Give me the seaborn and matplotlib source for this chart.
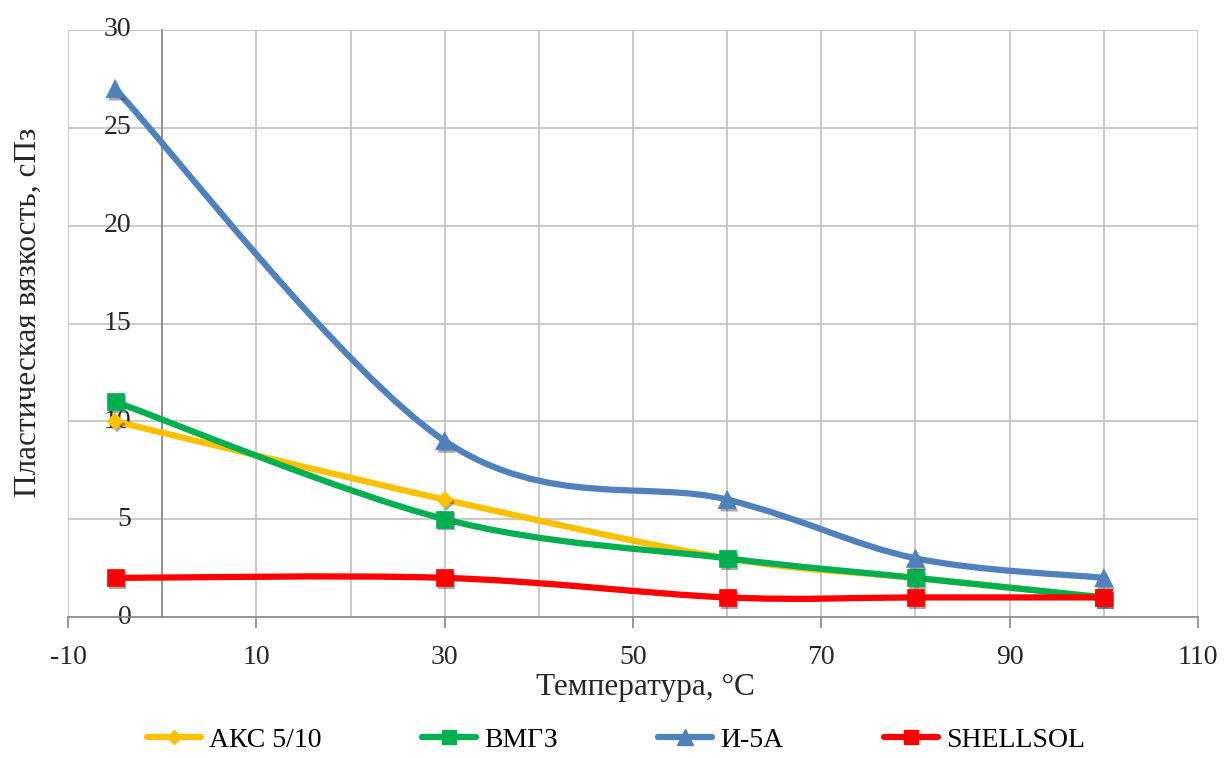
import numpy as np
import matplotlib
matplotlib.use("Agg")
import matplotlib.pyplot as plt
import seaborn as sns
from matplotlib.path import Path
from matplotlib.patches import PathPatch
from matplotlib.lines import Line2D
import matplotlib.patheffects as pe

# Temperature points and plastic viscosity for each fluid
temperature = [-5, 30, 60, 80, 100]
series_names = ["АКС 5/10", "ВМГЗ", "И-5А", "SHELLSOL"]
aks = [10, 6, 3, 2, 1]
vmgz = [11, 5, 3, 2, 1]
i5a = [27, 9, 6, 3, 2]
shellsol = [2, 2, 1, 1, 1]

colors = ["#FFC000", "#00B050", "#4F81BD", "#FF0000"]
markers = ["D", "s", "^", "s"]
marker_sizes = [70, 150, 170, 150]

x_ticks = [-10, 10, 30, 50, 70, 90, 110]
y_ticks = [0, 5, 10, 15, 20, 25, 30]

sns.set_theme(style="white")
plt.rcParams["font.family"] = ["Liberation Serif", "DejaVu Serif"]
plt.rcParams["text.color"] = "black"


def smooth_path(xs, ys, tension=1.0 / 6.0):
    """Cubic Bezier path through the points (Catmull-Rom style smoothing)."""
    pts = np.column_stack([xs, ys]).astype(float)
    n = len(pts)
    verts = [pts[0]]
    codes = [Path.MOVETO]
    for i in range(n - 1):
        p0 = pts[i - 1] if i > 0 else pts[i]
        p1 = pts[i]
        p2 = pts[i + 1]
        p3 = pts[i + 2] if i + 2 < n else pts[i + 1]
        c1 = p1 + (p2 - p0) * tension
        c2 = p2 - (p3 - p1) * tension
        verts += [c1, c2, p2]
        codes += [Path.CURVE4] * 3
    return Path(verts, codes)


fig = plt.figure(figsize=(12.25, 7.58), dpi=100)
ax = fig.add_axes([68 / 1225, 1 - 617 / 758, (1198 - 68) / 1225, (617 - 30) / 758])

ax.set_xlim(-10, 110)
ax.set_ylim(0, 30)

grid_color = "#C0C0C0"
ax.set_xticks(x_ticks)
ax.set_xticks([0, 20, 40, 60, 80, 100], minor=True)
ax.set_yticks(y_ticks)
ax.grid(True, which="both", axis="x", color=grid_color, lw=1.2)
ax.grid(True, which="major", axis="y", color=grid_color, lw=1.2)
ax.set_axisbelow(True)

for s in ["top", "right"]:
    ax.spines[s].set_visible(False)
ax.spines["left"].set_position(("data", 0))
ax.spines["left"].set_color("#888888")
ax.spines["left"].set_linewidth(1.2)
ax.spines["bottom"].set_color("#888888")
ax.spines["bottom"].set_linewidth(1.2)

ax.tick_params(axis="x", which="major", direction="out", length=8, width=1.2,
               color="#888888", pad=12, labelsize=20, bottom=True)
ax.tick_params(axis="x", which="minor", length=0)
ax.tick_params(axis="y", which="major", length=0, pad=22, labelsize=20, left=True)
ax.set_xticklabels([str(v) for v in x_ticks])
ax.set_yticklabels([str(v) for v in y_ticks])
for lab in ax.get_yticklabels():
    lab.set_verticalalignment("center")

all_values = [aks, vmgz, i5a, shellsol]
shadow = [pe.SimplePatchShadow(offset=(1.5, -2), alpha=0.45, shadow_rgbFace="#404040"), pe.Normal()]

for k, (name, vals) in enumerate(zip(series_names, all_values)):
    patch = PathPatch(smooth_path(temperature, vals), fill=False,
                      edgecolor=colors[k], lw=4.5, capstyle="round",
                      joinstyle="round", zorder=3 + k * 0.1)
    ax.add_patch(patch)
    sns.scatterplot(x=temperature, y=vals, marker=markers[k], s=marker_sizes[k],
                    color=colors[k], edgecolor=colors[k], linewidth=0.5,
                    ax=ax, zorder=4 + k * 0.1, legend=False)
    ax.collections[-1].set_path_effects(shadow)
    ax.collections[-1].set_clip_on(False)

ax.set_xlabel("Температура, °C", fontsize=22.5, labelpad=4)
ax.set_ylabel("Пластическая вязкость, сПз", fontsize=22.5)
ax.xaxis.set_label_coords((645 - 68) / (1198 - 68), -(688 - 617) / (617 - 30))
ax.yaxis.set_label_coords(-(68 - 28) / (1198 - 68), (617 - 312) / (617 - 30))
ax.xaxis.label.set_verticalalignment("center")
ax.yaxis.label.set_verticalalignment("center")

handles = [Line2D([0], [0], color=colors[k], lw=4.5, marker=markers[k],
                  markersize=[7, 10, 11, 10][k], markeredgecolor=colors[k])
           for k in range(4)]
fig.legend(handles, series_names, loc="center", ncol=4, frameon=False,
           bbox_to_anchor=(616 / 1225, 1 - 740 / 758), fontsize=20,
           handlelength=1.95, handletextpad=0.3, columnspacing=3.6)

fig.savefig("out.png", dpi=100, facecolor="white")
